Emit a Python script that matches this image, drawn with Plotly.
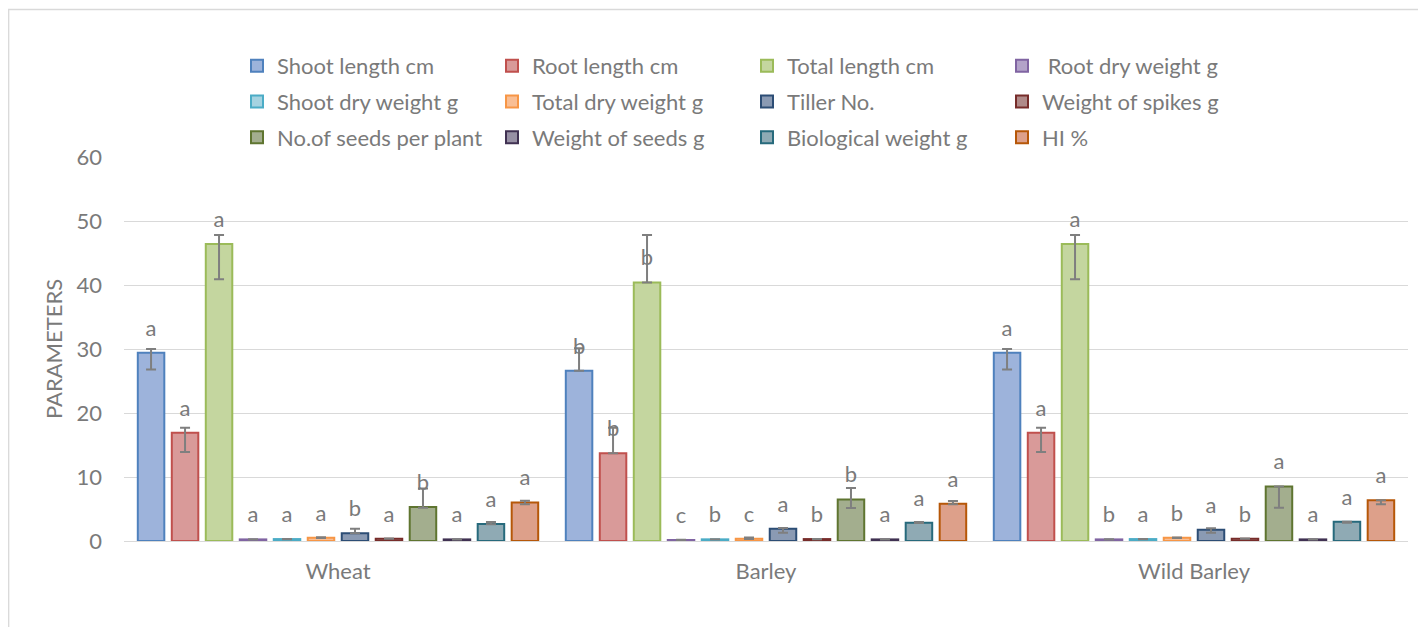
import plotly.graph_objects as go

# ---------------- data ----------------
categories = ["Wheat", "Barley", "Wild Barley"]

series_names = ["Shoot length cm", "Root length cm", "Total length cm", " Root dry weight g",
                "Shoot dry weight g", "Total dry weight g", "Tiller No.", "Weight of spikes g",
                "No.of seeds per plant", "Weight of seeds g", "Biological weight g", "HI %"]

wheat_values = [29.4, 16.9, 46.4, 0.25, 0.30, 0.52, 1.20, 0.37, 5.30, 0.25, 2.66, 6.00]
barley_values = [26.6, 13.7, 40.4, 0.16, 0.26, 0.36, 1.93, 0.30, 6.50, 0.25, 2.86, 5.83]
wild_values = [29.4, 16.9, 46.4, 0.25, 0.30, 0.50, 1.77, 0.37, 8.50, 0.25, 3.02, 6.35]

wheat_err_plus = [0.6, 0.8, 1.4, 0.03, 0.03, 0.05, 0.73, 0.03, 2.90, 0.02, 0.30, 0.30]
wheat_err_minus = [2.6, 3.0, 5.5, 0.03, 0.03, 0.05, 0.00, 0.03, 0.10, 0.02, 0.05, 0.26]
barley_err_plus = [3.5, 4.0, 7.4, 0.03, 0.03, 0.20, 0.10, 0.03, 1.80, 0.02, 0.10, 0.42]
barley_err_minus = [0.0, 0.0, 0.0, 0.03, 0.03, 0.05, 0.63, 0.03, 1.35, 0.02, 0.05, 0.10]
wild_err_plus = [0.6, 0.8, 1.4, 0.03, 0.03, 0.05, 0.21, 0.03, 0.00, 0.02, 0.00, 0.00]
wild_err_minus = [2.6, 3.0, 5.5, 0.03, 0.03, 0.05, 0.47, 0.03, 3.30, 0.02, 0.15, 0.60]

wheat_letters = ["a", "a", "a", "a", "a", "a", "b", "a", "b", "a", "a", "a"]
barley_letters = ["b", "b", "b", "c", "b", "c", "a", "b", "b", "a", "a", "a"]
wild_letters = ["a", "a", "a", "b", "a", "b", "a", "b", "a", "a", "a", "a"]

y_ticks = [0, 10, 20, 30, 40, 50, 60]

# ---------------- style ----------------
line_colors = ["#4F81BD", "#C0504D", "#9BBB59", "#8064A2", "#4BACC6", "#F79646",
               "#2C4D75", "#772C2A", "#5F7530", "#403152", "#276A7C", "#B65708"]
fill_colors = ["#9DB3DB", "#D99A99", "#C4D69F", "#B3A3C9", "#A5D3E1", "#F9BE94",
               "#8A9AB3", "#B08A89", "#A3AE8E", "#9790A4", "#8FAAB4", "#DDA08A"]

FONT = "Lato"
TXT = "#7a7a7a"
GRID = "#D9D9D9"

# page body has an 8px margin, so the figure is drawn offset by (8, 8)
OFF = 8
W, H = 1426 - OFF, 627 - OFF
L, R, T, B = 124 - OFF, 18, 157 - OFF, 86
pw, ph = W - L - R, H - T - B


def px_x(x):
    """screen x -> paper x"""
    return (x - OFF - L) / pw


def px_y(y):
    """screen y -> paper y"""
    return (H - B - (y - OFF)) / ph


fig = go.Figure()

legend_ids = ["legend"] * 4 + ["legend2"] * 4 + ["legend3"] * 4

for i, name in enumerate(series_names):
    vals = [wheat_values[i], barley_values[i], wild_values[i]]
    plus = [wheat_err_plus[i], barley_err_plus[i], wild_err_plus[i]]
    minus = [wheat_err_minus[i], barley_err_minus[i], wild_err_minus[i]]
    fig.add_trace(go.Bar(
        x=categories, y=vals, name=name,
        marker=dict(color=fill_colors[i], line=dict(color=line_colors[i], width=2)),
        error_y=dict(type="data", array=plus, arrayminus=minus, symmetric=False,
                     color="#7F7F7F", thickness=2, width=5),
        legend=legend_ids[i],
    ))

for i, name in enumerate(series_names):
    vals = [wheat_values[i], barley_values[i], wild_values[i]]
    letters = [wheat_letters[i], barley_letters[i], wild_letters[i]]
    fig.add_trace(go.Scatter(
        x=categories, y=vals, text=letters, mode="markers+text",
        orientation="v",
        marker=dict(size=17, opacity=0, color=line_colors[i]),
        textposition="top center",
        textfont=dict(family=FONT, size=22, color=TXT),
        showlegend=False, hoverinfo="skip", cliponaxis=False,
    ))

legend_common = dict(orientation="h", xanchor="left", yanchor="middle",
                     x=px_x(237), font=dict(family=FONT, size=22, color=TXT),
                     entrywidth=210, bgcolor="rgba(0,0,0,0)", traceorder="normal")

fig.update_layout(
    width=W, height=H,
    margin=dict(l=L, r=R, t=T, b=B, autoexpand=False),
    paper_bgcolor="white", plot_bgcolor="white",
    barmode="group", bargap=0.047, bargroupgap=0.22,
    scattermode="group", scattergap=0.047,
    font=dict(family=FONT, size=22, color=TXT),
    legend=dict(legend_common, y=px_y(66)),
    legend2=dict(legend_common, y=px_y(101.7)),
    legend3=dict(legend_common, y=px_y(137.4)),
    xaxis=dict(showgrid=False, showline=True, linecolor=GRID, linewidth=1.3,
               tickfont=dict(family=FONT, size=22, color=TXT), ticks="",
               ticklabelstandoff=10),
    yaxis=dict(range=[0, 60], tickvals=y_ticks, showgrid=True, gridcolor=GRID,
               gridwidth=1.3, zeroline=False, showline=False, ticks="",
               ticklabelstandoff=21,
               tickfont=dict(family=FONT, size=22, color=TXT),
               title=dict(text="PARAMETERS", font=dict(family=FONT, size=22, color=TXT),
                          standoff=7)),
    shapes=[dict(type="rect", xref="paper", yref="paper",
                 x0=px_x(8.7), x1=px_x(1440), y0=px_y(9.5), y1=px_y(660),
                 line=dict(color=GRID, width=1.3), fillcolor="rgba(0,0,0,0)", layer="below")],
    showlegend=True,
)

fig.write_html("out.html")
